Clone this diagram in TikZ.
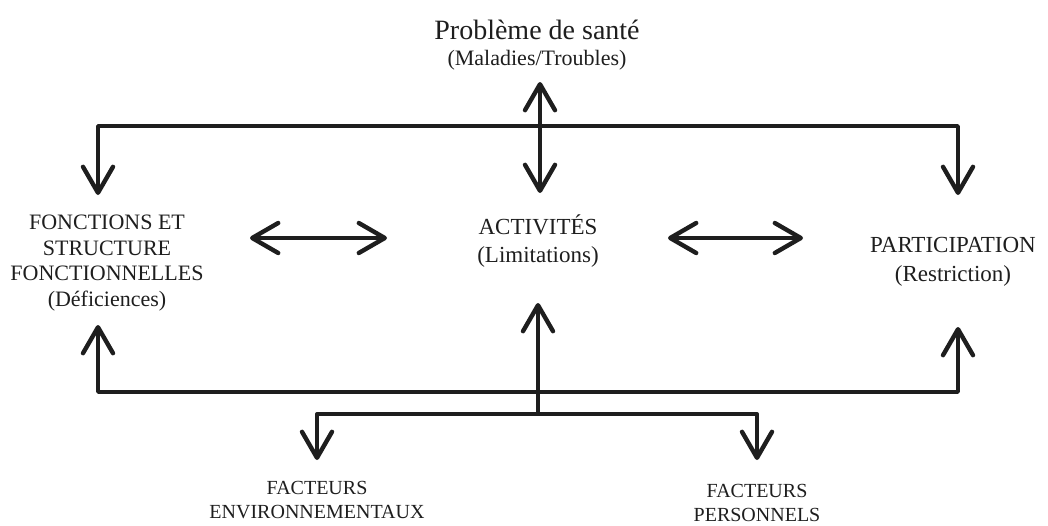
\documentclass[tikz,border=0pt]{standalone}
\usepackage{fontspec}
\setmainfont{Liberation Serif}
\usetikzlibrary{arrows.meta}
\definecolor{ink}{HTML}{1E1E1E}
\begin{document}
\begin{tikzpicture}[x=1pt,y=-1pt,
  conn/.style={draw=ink, line width=3.4pt, line join=round, line cap=round},
  arr/.style={conn, -{Straight Barb[length=26pt,width=30pt,line width=4.4pt,round]}},
  dbl/.style={conn, {Straight Barb[length=26pt,width=30pt,line width=4.4pt,round]}-{Straight Barb[length=26pt,width=30pt,line width=4.4pt,round]}},
  lbl/.style={inner sep=0pt, align=center, text=ink},
  big/.style={font=\fontsize{22}{25.5}\selectfont},
  small/.style={font=\fontsize{20}{24}\selectfont}]
\useasboundingbox (0,0) rectangle (1048,525);

% labels
\node[lbl, font=\fontsize{28}{30}\selectfont] (sante) at (537,30) {Problème de santé};
\node[lbl, font=\fontsize{22}{26}\selectfont] (santesub) at (537,60) {(Maladies/Troubles)};
\node[lbl, big] (fonc) at (107,263) {FONCTIONS ET\\STRUCTURE\\FONCTIONNELLES\\(Déficiences)};
\node[lbl, font=\fontsize{23}{28}\selectfont] (act) at (538,241) {ACTIVITÉS\\(Limitations)};
\node[lbl, font=\fontsize{23}{29}\selectfont] (part) at (953,262) {PARTICIPATION\\(Restriction)};
\node[lbl, small] (env) at (317,500) {FACTEURS\\ENVIRONNEMENTAUX};
\node[lbl, small] (pers) at (757,503) {FACTEURS\\PERSONNELS};

% connector end points
\coordinate (sTop) at (540,82);
\coordinate (sBot) at (540,193);
\coordinate (hTop) at (540,126);
\coordinate (fDown) at (98,195);
\coordinate (pDown) at (958,195);
\coordinate (faL) at (250,238);
\coordinate (faR) at (387,238);
\coordinate (paL) at (668,238);
\coordinate (paR) at (803,238);
\coordinate (b1) at (538,392);
\coordinate (b2) at (538,414);
\coordinate (fUp) at (98,325);
\coordinate (pUp) at (958,327);
\coordinate (aUp) at (538,303);
\coordinate (eDown) at (317,460);
\coordinate (rDown) at (757,460);

% top
\draw[dbl] (sTop) -- (sBot);
\draw[arr] (hTop) -| (fDown);
\draw[arr] (hTop) -| (pDown);
% middle
\draw[dbl] (faL) -- (faR);
\draw[dbl] (paL) -- (paR);
% bottom
\draw[arr] (b1) -| (fUp);
\draw[arr] (b1) -| (pUp);
\draw[arr] (b2) -- (aUp);
\draw[arr] (b2) -| (eDown);
\draw[arr] (b2) -| (rDown);
\draw[conn, line width=4.5pt] ([xshift=-15pt]b1) -- ([xshift=16pt]b1);
\draw[conn, line width=4.5pt] ([xshift=-15pt]b2) -- ([xshift=16pt]b2);
\end{tikzpicture}
\end{document}
